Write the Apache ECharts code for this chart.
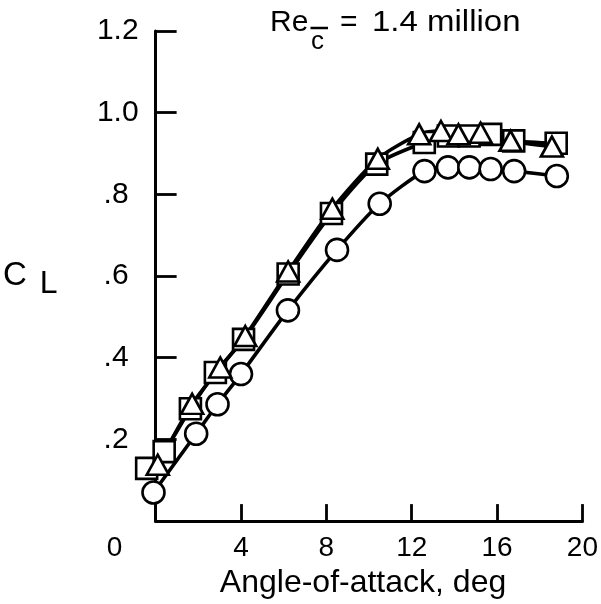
<!DOCTYPE html>
<html>
<head>
<meta charset="utf-8">
<script src="https://cdn.jsdelivr.net/npm/echarts@6/dist/echarts.min.js"></script>
<style>
  html, body { margin: 0; padding: 0; background: #fff; }
  #chart { width: 601px; height: 604px; }
</style>
</head>
<body>
<div id="chart"></div>
<script>
// Lift coefficient vs angle of attack, three configurations
const alphaCircle = [-0.1, 1.9, 2.9, 4.0, 6.2, 8.5, 10.5, 12.6, 13.7, 14.7, 15.7, 16.8, 18.8];
const clCircle    = [0.070, 0.214, 0.286, 0.360, 0.516, 0.664, 0.777, 0.857, 0.866, 0.866, 0.862, 0.857, 0.845];

const alphaSquare = [-0.42, 0.4, 1.63, 2.8, 4.12, 6.21, 8.24, 10.36, 12.59, 13.72, 14.69, 15.70, 16.78, 18.77];
const clSquare    = [0.129, 0.170, 0.275, 0.364, 0.445, 0.605, 0.753, 0.874, 0.927, 0.943, 0.943, 0.947, 0.931, 0.925];

const alphaTriangle = [0.1, 1.71, 3.03, 4.20, 6.21, 8.28, 10.41, 12.35, 13.37, 14.19, 15.23, 16.63, 18.57];
const clTriangle    = [0.138, 0.287, 0.376, 0.453, 0.611, 0.765, 0.887, 0.947, 0.955, 0.947, 0.951, 0.931, 0.917];

const xTicks = [0, 4, 8, 12, 16, 20];
const yTickLabels = { 0.2: '.2', 0.4: '.4', 0.6: '.6', 0.8: '.8', 1: '1.0', 1.2: '1.2' };

const FONT = '"Liberation Sans", Arial, Helvetica, sans-serif';

function pairs(xs, ys) { return xs.map((x, i) => [x, ys[i]]); }

const circleData = pairs(alphaCircle, clCircle);
const squareData = pairs(alphaSquare, clSquare);
const triangleData = pairs(alphaTriangle, clTriangle);

function curve(data) {
  return {
    type: 'line', data: data, symbol: 'none', smooth: 0.25, z: 2, clip: false,
    lineStyle: { color: '#000', width: 3.6 }, silent: true
  };
}
function markers(data, symbol, size) {
  return {
    type: 'scatter', data: data, symbol: symbol, symbolSize: size, z: 3, clip: false,
    itemStyle: { color: '#fff', borderColor: '#000', borderWidth: 2.6, opacity: 1 }
  };
}

const chart = echarts.init(document.getElementById('chart'), null, { renderer: 'canvas' });
chart.setOption({
  animation: false,
  backgroundColor: '#fff',
  grid: { left: 155, right: 17, top: 31, bottom: 79, containLabel: false },
  xAxis: {
    type: 'value', min: 0, max: 20, interval: 4,
    axisLine: { show: true, onZero: false, lineStyle: { color: '#000', width: 3.2 } },
    axisTick: { show: true, inside: false, length: -17, lineStyle: { color: '#000', width: 2.8 } },
    splitLine: { show: false },
    axisLabel: {
      color: '#000', fontFamily: FONT, fontSize: 28, margin: 13,
      formatter: function (v) { return v === 0 ? '{z|0}' : (xTicks.indexOf(v) >= 0 ? String(v) : ''); },
      rich: { z: { fontFamily: FONT, fontSize: 28, color: '#000', padding: [0, 82, 0, 0] } }
    },
    name: 'Angle-of-attack, deg', nameLocation: 'middle', nameGap: 44,
    nameTextStyle: { color: '#000', fontFamily: FONT, fontSize: 32, padding: [0, 12, 0, 0] }
  },
  yAxis: {
    type: 'value', min: 0, max: 1.2, interval: 0.2,
    axisLine: { show: true, onZero: false, lineStyle: { color: '#000', width: 3 } },
    axisTick: { show: true, inside: false, length: -21, lineStyle: { color: '#000', width: 2.8 } },
    splitLine: { show: false },
    axisLabel: {
      showMinLabel: false, margin: 17,
      formatter: function (v) {
        const key = Math.round(v * 10) / 10;
        const t = yTickLabels[key];
        if (!t) return '';
        return key >= 1 ? '{a|' + t + '}' : '{b|' + t + '}';
      },
      rich: {
        a: { fontFamily: FONT, fontSize: 30, color: '#000' },
        b: { fontFamily: FONT, fontSize: 30, color: '#000', padding: [0, 10, 0, 0] }
      }
    },
    name: '{c|C}{l|L}', nameLocation: 'middle', nameRotate: 0, nameGap: 98,
    nameTextStyle: {
      rich: {
        c: { fontFamily: FONT, fontSize: 33, color: '#000', verticalAlign: 'top', lineHeight: 34 },
        l: { fontFamily: FONT, fontSize: 32, color: '#000', verticalAlign: 'top', lineHeight: 34, padding: [9, 0, 0, 13] }
      }
    }
  },
  graphic: [
    { type: 'text', x: 270, y: 23, style: { text: 'Re', font: '30px ' + FONT, fill: '#000', verticalAlign: 'middle' } },
    { type: 'text', x: 311, y: 42, style: { text: 'c', font: '26px ' + FONT, fill: '#000', verticalAlign: 'middle' } },
    { type: 'line', shape: { x1: 310.5, y1: 28, x2: 328, y2: 28 }, style: { stroke: '#000', lineWidth: 2.5 } },
    { type: 'text', x: 340, y: 23, style: { text: '=', font: '30px ' + FONT, fill: '#000', verticalAlign: 'middle' } },
    { type: 'text', x: 372, y: 23, scaleX: 1.1, style: { text: '1.4 million', font: '30px ' + FONT, fill: '#000', verticalAlign: 'middle' } }
  ],
  series: [
    curve(circleData),
    curve(squareData),
    curve(triangleData),
    markers(circleData, 'circle', 22),
    markers(squareData, 'rect', 21),
    markers(triangleData, 'triangle', [22, 20])
  ]
});
</script>
</body>
</html>
